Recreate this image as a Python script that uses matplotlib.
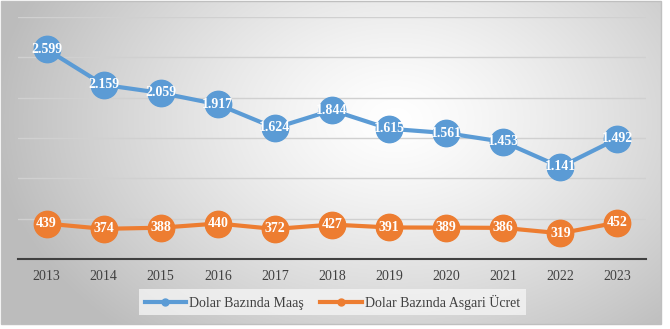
import numpy as np
import matplotlib.pyplot as plt
from matplotlib.lines import Line2D
from matplotlib.patches import Rectangle

years = ['2013', '2014', '2015', '2016', '2017', '2018', '2019', '2020', '2021', '2022', '2023']
maas = [2599, 2159, 2059, 1917, 1624, 1844, 1615, 1561, 1453, 1141, 1492]
asgari = [439, 374, 388, 440, 372, 427, 391, 389, 386, 319, 452]
maas_labels = ['2.599', '2.159', '2.059', '1.917', '1.624', '1.844', '1.615', '1.561', '1.453', '1.141', '1.492']

blue = '#5B9BD5'
orange = '#ED7D31'

plt.rcParams['font.family'] = ['Liberation Serif', 'DejaVu Serif']

W, H = 670, 329
fig = plt.figure(figsize=(W / 100, H / 100), dpi=100)

# radial grey-to-white background inside a thin frame
bg = fig.add_axes([0, 0, 1, 1], zorder=0)
bg.set_xlim(0, W)
bg.set_ylim(H, 0)
bg.axis('off')
yy, xx = np.mgrid[0:H, 0:W]
r = np.sqrt(((xx - 400) / 420) ** 2 + ((yy - 120) / 300) ** 2)
shade = np.clip(1 - 0.27 * r ** 1.3, 0.74, 1)
img = np.dstack([shade, shade, shade])
bg.imshow(img, extent=(1, 661, 324, 1), aspect='auto', clip_on=False)
bg.add_patch(Rectangle((1, 1), 660, 323, fill=False, edgecolor='#bfbfbf', lw=1))

ax = fig.add_axes([18 / W, 1 - 259 / H, (646 - 18) / W, (259 - 17) / H], zorder=1)
ax.patch.set_alpha(0)
x = np.arange(len(years))

ax.plot(x, maas, color=blue, lw=3, marker='o', ms=19, zorder=3)
ax.plot(x, asgari, color=orange, lw=3, marker='o', ms=19, zorder=3)
for i in x:
    ax.text(i, maas[i], maas_labels[i], color='white', fontsize=10, fontweight='bold',
            ha='center', va='center', zorder=4)
    ax.text(i, asgari[i], str(asgari[i]), color='white', fontsize=10, fontweight='bold',
            ha='center', va='center', zorder=4)

ax.set_xlim(-0.5, len(years) - 0.5)
ax.set_ylim(0, 3000)
ax.set_yticks(np.arange(0, 3001, 500))
ax.set_yticklabels([])
ax.tick_params(axis='y', length=0)
ax.grid(axis='y', color='#d0d0d0', lw=1)
ax.set_axisbelow(True)
ax.set_xticks(x)
ax.set_xticklabels(years, fontsize=10, color='#404040')
ax.tick_params(axis='x', length=0, pad=8)
for s in ['top', 'right', 'left']:
    ax.spines[s].set_visible(False)
ax.spines['bottom'].set_color('#404040')
ax.spines['bottom'].set_linewidth(1.5)

handles = [Line2D([], [], color=blue, lw=3, marker='o', ms=5),
           Line2D([], [], color=orange, lw=3, marker='o', ms=5)]
leg = fig.legend(handles, ['Dolar Bazında Maaş', 'Dolar Bazında Asgari Ücret'],
                 loc='center', bbox_to_anchor=(0.496, 0.082), ncol=2, frameon=True,
                 fontsize=10, handlelength=3, columnspacing=1.2, handletextpad=0.2,
                 borderpad=0.4, fancybox=False)
leg.get_frame().set_facecolor('#f4f4f4')
leg.get_frame().set_alpha(0.8)
leg.get_frame().set_linewidth(0)
for t in leg.get_texts():
    t.set_color('#404040')

fig.savefig('out.png', dpi=100)
